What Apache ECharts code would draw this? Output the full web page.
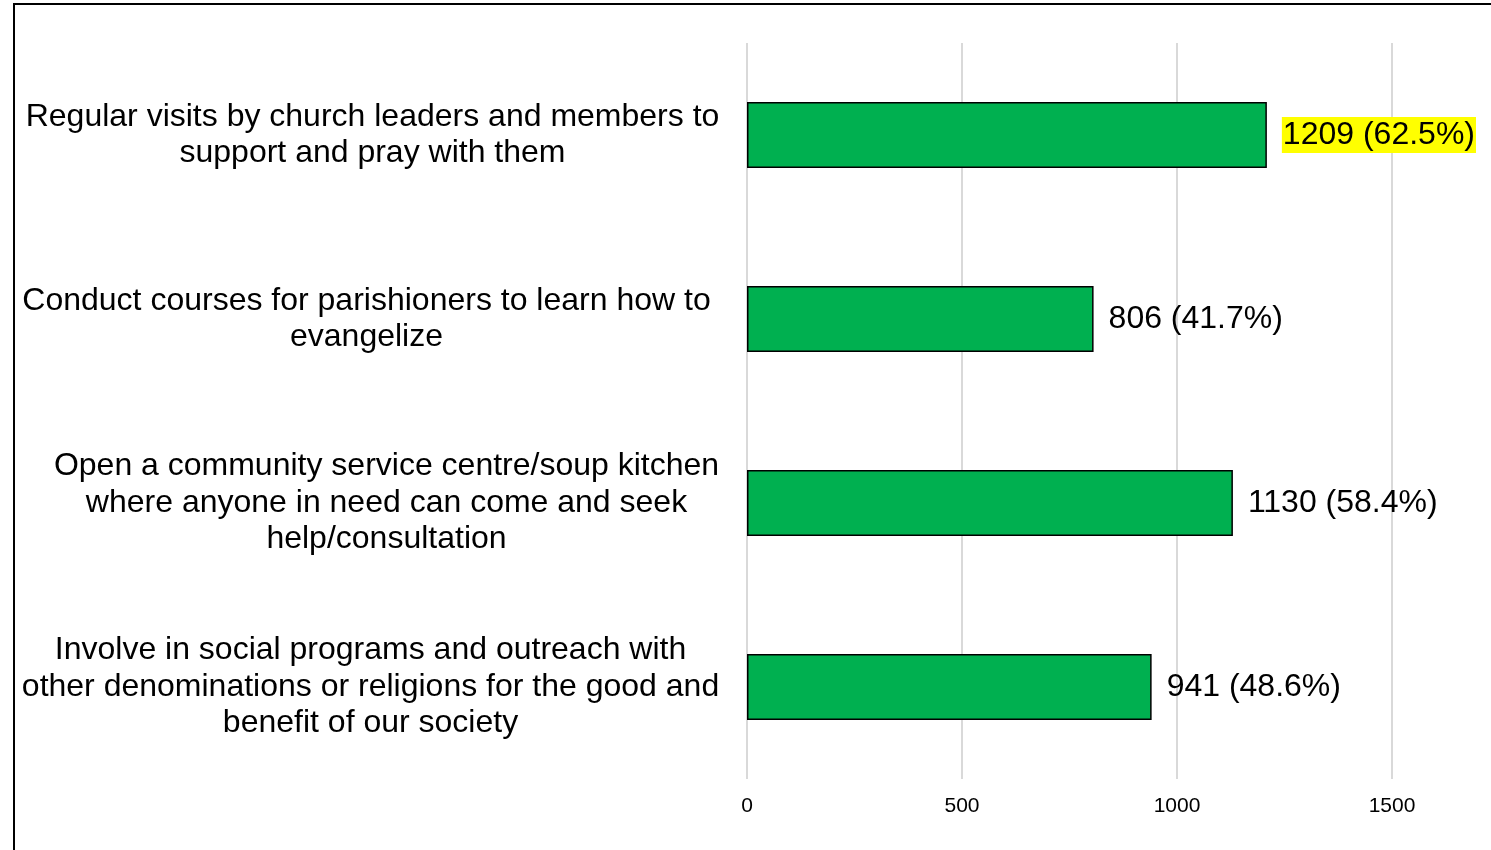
<!DOCTYPE html>
<html>
<head>
<meta charset="utf-8">
<script src="https://cdn.jsdelivr.net/npm/echarts@6/dist/echarts.min.js"></script>
<style>
  html, body { margin: 0; padding: 0; background: #fff; }
  #chart { width: 1491px; height: 850px; }
</style>
</head>
<body>
<div id="chart"></div>
<script>
// 数据
var categories = [
    'Regular visits by church leaders and members to\nsupport and pray with them',
    'Conduct courses for parishioners to learn how to\nevangelize',
    'Open a community service centre/soup kitchen\nwhere anyone in need can come and seek\nhelp/consultation',
    'Involve in social programs and outreach with\nother denominations or religions for the good and\nbenefit of our society'
];
var counts = [1209, 806, 1130, 941];
var percents = ['62.5%', '41.7%', '58.4%', '48.6%'];
var xTicks = [0, 500, 1000, 1500];

// 每个标签块的宽度（文字居中，整体右对齐）
var blockWidths = [691, 703, 663, 695];

var rich = {};
blockWidths.forEach(function (w, i) {
    rich['c' + i] = {
        width: w,
        align: 'center',
        fontSize: 32,
        lineHeight: 36.5,
        color: '#000',
        fontFamily: 'Liberation Sans, Arial, sans-serif'
    };
});

var chart = echarts.init(document.getElementById('chart'));

var option = {
    backgroundColor: '#fff',
    animation: false,
    graphic: [{
        type: 'rect',
        shape: { x: 14, y: 4, width: 1600, height: 1000 },
        style: { fill: 'none', stroke: '#000', lineWidth: 2 },
        silent: true
    }],
    grid: {
        left: 747,
        right: 99,
        top: 43,
        bottom: 71
    },
    xAxis: {
        type: 'value',
        min: xTicks[0],
        max: xTicks[xTicks.length - 1],
        interval: xTicks[1] - xTicks[0],
        axisLine: { show: false },
        axisTick: { show: false },
        splitLine: { lineStyle: { color: '#d9d9d9', width: 2 } },
        axisLabel: {
            margin: 17,
            fontSize: 21,
            color: '#000',
            fontFamily: 'Liberation Sans, Arial, sans-serif',
            formatter: function (v) { return String(v); }
        }
    },
    yAxis: {
        type: 'category',
        inverse: true,
        data: categories,
        axisLine: { show: false },
        axisTick: { show: false },
        axisLabel: {
            margin: 29,
            align: 'right',
            formatter: function (value, idx) {
                return '{c' + idx + '|' + value + '}';
            },
            rich: rich
        }
    },
    series: [{
        type: 'bar',
        barWidth: '36%',
        data: counts.map(function (v, i) {
            var item = { value: v };
            if (i === 0) {
                item.label = { backgroundColor: '#ffff00', padding: [3, 1, 1, 1] };
            }
            return item;
        }),
        itemStyle: {
            color: '#00b050',
            borderColor: '#000',
            borderWidth: 1.5
        },
        label: {
            show: true,
            position: 'right',
            distance: 15,
            fontSize: 32,
            color: '#000',
            fontFamily: 'Liberation Sans, Arial, sans-serif',
            formatter: function (p) {
                return p.value + ' (' + percents[p.dataIndex] + ')';
            }
        }
    }]
};

chart.setOption(option);
</script>
</body>
</html>
